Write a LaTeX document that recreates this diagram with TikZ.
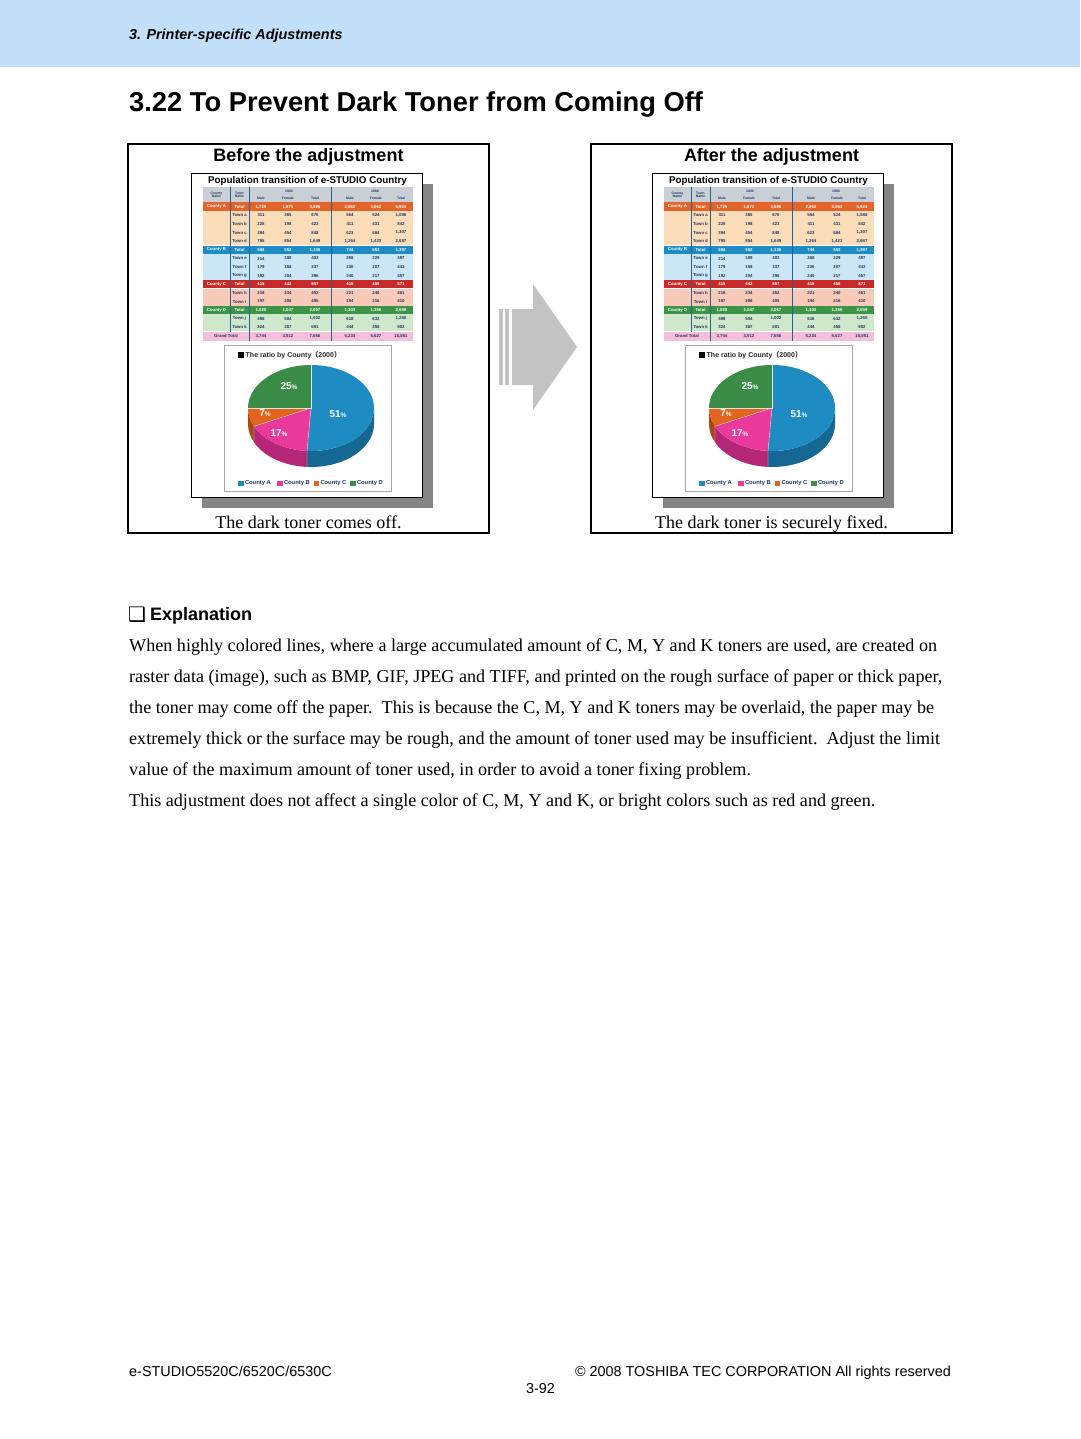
\documentclass[tikz,border=0pt]{standalone}
\usepackage{fontspec}
\setmainfont{Liberation Serif}
\setsansfont{Liberation Sans}
\newfontfamily\dejavu{DejaVu Sans}
\newfontfamily\cjkfont{Noto Sans CJK SC}
\definecolor{band}{HTML}{C2E0FA}
\definecolor{shadowgray}{HTML}{858585}
\definecolor{arrowgray}{HTML}{C3C3C3}
\definecolor{tblhead}{HTML}{C9CFD6}
\definecolor{cA}{HTML}{E2642A}
\definecolor{cAl}{HTML}{FCDDBA}
\definecolor{cB}{HTML}{1D8BC4}
\definecolor{cBl}{HTML}{CBE7F6}
\definecolor{cC}{HTML}{C62B2A}
\definecolor{cCl}{HTML}{F9C9B9}
\definecolor{cD}{HTML}{3C9447}
\definecolor{cDl}{HTML}{CFE8CB}
\definecolor{cG}{HTML}{F5BEDA}
\definecolor{navy}{HTML}{1F3560}
\definecolor{sepblue}{HTML}{2B5F8C}
\definecolor{pA}{HTML}{1E8BC3}
\definecolor{pAs}{HTML}{156894}
\definecolor{pB}{HTML}{E9399B}
\definecolor{pBs}{HTML}{B42676}
\definecolor{pC}{HTML}{E2641F}
\definecolor{pCs}{HTML}{A8481A}
\definecolor{pD}{HTML}{3A8C47}
\tikzset{
  hdrtext/.style={font=\sffamily\bfseries\itshape\fontsize{14.4}{16}\selectfont, anchor=base west, inner sep=0},
  titletext/.style={font=\sffamily\bfseries\fontsize{27.3}{32}\selectfont, anchor=base west, inner sep=0},
  boxtitle/.style={font=\sffamily\bfseries\fontsize{18}{20}\selectfont, anchor=base, inner sep=0},
  caption/.style={font=\fontsize{18}{20}\selectfont, anchor=base, inner sep=0},
  bodyline/.style={font=\fontsize{18.1}{20}\selectfont, anchor=base west, inner sep=0},
  foot/.style={font=\sffamily\fontsize{14.4}{16}\selectfont, inner sep=0},
  outerbox/.style={draw=black, line width=1.5},
  tbltitle/.style={font=\sffamily\bfseries\fontsize{9.8}{10}\selectfont, inner sep=0},
  cell/.style={font=\sffamily\bfseries\fontsize{4.3}{5}\selectfont, inner sep=0},
  hcell/.style={font=\sffamily\bfseries\fontsize{3.4}{3.7}\selectfont, inner sep=0, align=center, text=navy},
  pielabel/.style={font=\sffamily\bfseries\fontsize{10}{11}\selectfont, text=white, inner sep=0},
  legend/.style={font=\sffamily\bfseries\fontsize{5.8}{6}\selectfont, anchor=west, inner sep=0, text=navy},
}
\newcommand{\pct}{{\fontsize{6.5}{7}\selectfont\%}}
\newcommand{\samplepage}[1]{%
  \fill[shadowgray] (202,184) rectangle (433,508);
  \draw[black, line width=0.8, fill=white] (191,173) rectangle (422,497);
  \node[tbltitle] (#1-title) at (307.5,181) {Population transition of e-STUDIO Country};
  \fill[tblhead] (203,187) rectangle (413,202.5);
  \node[hcell] (#1-h1) at (216.5,194.8) {County\\Name};
  \node[hcell] (#1-h2) at (239.5,194.8) {Town\\Name};
  \node[hcell] (#1-y1) at (289,191) {1920};
  \node[hcell] (#1-y2) at (375,191) {1960};
  \foreach \x/\t [count=\k] in {261/Male,288/Female,315/Total,350/Male,376/Female,401/Total}
    \node[hcell] (#1-hd\k) at (\x,198) {\t};
  \foreach \r/\bg/\fg/\ca/\cb/\va/\vb/\vc/\vd/\ve/\vf in {
    0/cA/white/County A/Total/{1,725}/{1,871}/{3,596}/{2,862}/{3,062}/{5,924},
    1/cAl/navy//Town a/311/365/676/564/524/{1,088},
    2/cAl/navy//Town b/225/198/423/411/431/842,
    3/cAl/navy//Town c/394/454/848/623/684/{1,307},
    4/cAl/navy//Town d/795/854/{1,649}/{1,264}/{1,423}/{2,687},
    5/cB/white/County B/Total/584/552/{1,136}/744/653/{1,397},
    6/cBl/navy//Town e/214/189/403/268/229/497,
    7/cBl/navy//Town f/179/158/337/236/207/443,
    8/cBl/navy//Town g/192/204/396/240/217/457,
    9/cC/white/County C/Total/415/442/857/415/456/871,
    10/cCl/navy//Town h/218/234/452/221/240/461,
    11/cCl/navy//Town i/197/208/405/194/216/410,
    12/cD/white/County D/Total/{1,020}/{1,047}/{2,067}/{1,303}/{1,356}/{2,659},
    13/cDl/navy//Town j/498/504/{1,002}/618/632/{1,250},
    14/cDl/navy//Town k/324/387/691/444/458/902}{
    \pgfmathsetmacro{\yt}{202.5+8.6*\r}
    \pgfmathsetmacro{\yc}{\yt+4.4}
    \fill[\bg] (203,\yt) rectangle (413,\yt+8.6);
    \node[cell, text=\fg] (#1-r\r c1) at (216.5,\yc) {\ca};
    \node[cell, text=\fg] (#1-r\r c2) at (239.5,\yc) {\cb};
    \node[cell, text=\fg] (#1-r\r c3) at (261,\yc) {\va};
    \node[cell, text=\fg] (#1-r\r c4) at (288,\yc) {\vb};
    \node[cell, text=\fg] (#1-r\r c5) at (315,\yc) {\vc};
    \node[cell, text=\fg] (#1-r\r c6) at (350,\yc) {\vd};
    \node[cell, text=\fg] (#1-r\r c7) at (376,\yc) {\ve};
    \node[cell, text=\fg] (#1-r\r c8) at (401,\yc) {\vf};
  }
  \fill[cG] (203,331.5) rectangle (413,341);
  \node[cell, text=navy] (#1-gt) at (226,336.3) {Grand Total};
  \foreach \x/\v [count=\k] in {261/{3,744},288/{3,912},315/{7,656},350/{5,234},376/{5,627},401/{10,851}}
    \node[cell, text=navy] (#1-g\k) at (\x,336.3) {\v};
  \foreach \yy in {245.5,288.5,331.5}
    \draw[white, line width=0.5] (203,\yy) -- (413,\yy);
  \draw[sepblue, line width=0.9] (230,187) -- (230,331.5);
  \draw[sepblue, line width=0.9] (249,187) -- (249,341);
  \draw[sepblue, line width=0.9] (331,187) -- (331,341);
  % pie chart panel
  \draw[gray!70, line width=0.6, fill=white] (224,345) rectangle (391,491);
  \fill[black] (238,352) rectangle (244,358);
  \node[font=\sffamily\bfseries\fontsize{7}{7}\selectfont, anchor=west, inner sep=0, text=black!85] (#1-pt) at (245.5,355.2) {The ratio by County{\cjkfont （}2000{\cjkfont ）}};
  % sides
  \fill[pAs] ([shift={(311,408)}]0:63 and 43) arc[start angle=0,end angle=93.6,x radius=63,y radius=43] -- ++(0,16) arc[start angle=93.6,end angle=0,x radius=63,y radius=43] -- cycle;
  \fill[pBs] ([shift={(311,408)}]93.6:63 and 43) arc[start angle=93.6,end angle=154.8,x radius=63,y radius=43] -- ++(0,16) arc[start angle=154.8,end angle=93.6,x radius=63,y radius=43] -- cycle;
  \fill[pCs] ([shift={(311,408)}]154.8:63 and 43) arc[start angle=154.8,end angle=180,x radius=63,y radius=43] -- ++(0,16) arc[start angle=180,end angle=154.8,x radius=63,y radius=43] -- cycle;
  % top
  \fill[pA] (311,408) -- ([shift={(311,408)}]-90:63 and 43) arc[start angle=-90,end angle=93.6,x radius=63,y radius=43] -- cycle;
  \fill[pB] (311,408) -- ([shift={(311,408)}]93.6:63 and 43) arc[start angle=93.6,end angle=154.8,x radius=63,y radius=43] -- cycle;
  \fill[pC] (311,408) -- ([shift={(311,408)}]154.8:63 and 43) arc[start angle=154.8,end angle=180,x radius=63,y radius=43] -- cycle;
  \fill[pD] (311,408) -- ([shift={(311,408)}]180:63 and 43) arc[start angle=180,end angle=270,x radius=63,y radius=43] -- cycle;
  \draw[white!80!gray, line width=0.3] (311,365) -- (311,408) -- ([shift={(311,408)}]180:63 and 43);
  \draw[white!80!gray, line width=0.3] (311,408) -- ([shift={(311,408)}]93.6:63 and 43) -- ++(0,16);
  \draw[white!80!gray, line width=0.3] (311,408) -- ([shift={(311,408)}]154.8:63 and 43) -- ++(0,16);
  \node[pielabel] (#1-l25) at (289,386) {25\pct};
  \node[pielabel] (#1-l51) at (338,414) {51\pct};
  \node[pielabel] (#1-l7) at (265,413) {7\pct};
  \node[pielabel] (#1-l17) at (279,433) {17\pct};
  % legend
  \foreach \x/\c/\t [count=\k] in {238/pA/County A,277/pB/County B,313.5/pC/County C,350/pD/County D}{
    \fill[\c] (\x,480.5) rectangle (\x+5.5,486);
    \node[legend] (#1-lg\k) at (\x+6.8,483.3) {\t};
  }
}
\begin{document}
\begin{tikzpicture}[x=1pt,y=-1pt]
\useasboundingbox (0,0) rectangle (1080,1439);
\fill[white] (0,0) rectangle (1080,1439);
\fill[band] (0,0) rectangle (1080,67);
\node[hdrtext] (hdr) at (129,39.5) {3. Printer-specific Adjustments};
\node[titletext] (title) at (129,112) {3.22 To Prevent Dark Toner from Coming Off};
% boxes
\draw[outerbox] (128,144) rectangle (489,533);
\draw[outerbox] (591,144) rectangle (952,533);
\node[boxtitle] (before) at (308.5,162) {Before the adjustment};
\node[boxtitle] (after) at (771.5,162) {After the adjustment};
\samplepage{L}
\begin{scope}[shift={(461,0)}]
\samplepage{R}
\end{scope}
\node[caption] (capL) at (308.5,528) {The dark toner comes off.};
\node[caption] (capR) at (771.5,528) {The dark toner is securely fixed.};
% arrow
\fill[arrowgray] (499,309) rectangle (502.5,385);
\fill[arrowgray] (505,309) rectangle (508.5,385);
\fill[arrowgray] (512,309) -- (533,309) -- (533,284) -- (577,347) -- (533,410) -- (533,385) -- (512,385) -- cycle;
% explanation
\node[font=\dejavu\fontsize{20}{22}\selectfont, anchor=base west, inner sep=0] (box) at (128,621) {❑};
\node[font=\sffamily\bfseries\fontsize{18}{20}\selectfont, anchor=base west, inner sep=0] (expl) at (150,620) {Explanation};
\node[bodyline] (b1) at (129,651) {When highly colored lines, where a large accumulated amount of C, M, Y and K toners are used, are created on};
\node[bodyline] (b2) at (129,682) {raster data (image), such as BMP, GIF, JPEG and TIFF, and printed on the rough surface of paper or thick paper,};
\node[bodyline] (b3) at (129,713) {the toner may come off the paper.\ \ This is because the C, M, Y and K toners may be overlaid, the paper may be};
\node[bodyline] (b4) at (129,744) {extremely thick or the surface may be rough, and the amount of toner used may be insufficient.\ \ Adjust the limit};
\node[bodyline] (b5) at (129,775) {value of the maximum amount of toner used, in order to avoid a toner fixing problem.};
\node[bodyline] (b6) at (129,806) {This adjustment does not affect a single color of C, M, Y and K, or bright colors such as red and green.};
% footer
\node[foot, anchor=base west] (f1) at (129,1376) {e-STUDIO5520C/6520C/6530C};
\node[foot, anchor=base east] (f2) at (951,1376) {© 2008 TOSHIBA TEC CORPORATION All rights reserved};
\node[foot, anchor=base] (f3) at (540.5,1393) {3-92};
\end{tikzpicture}
\end{document}
